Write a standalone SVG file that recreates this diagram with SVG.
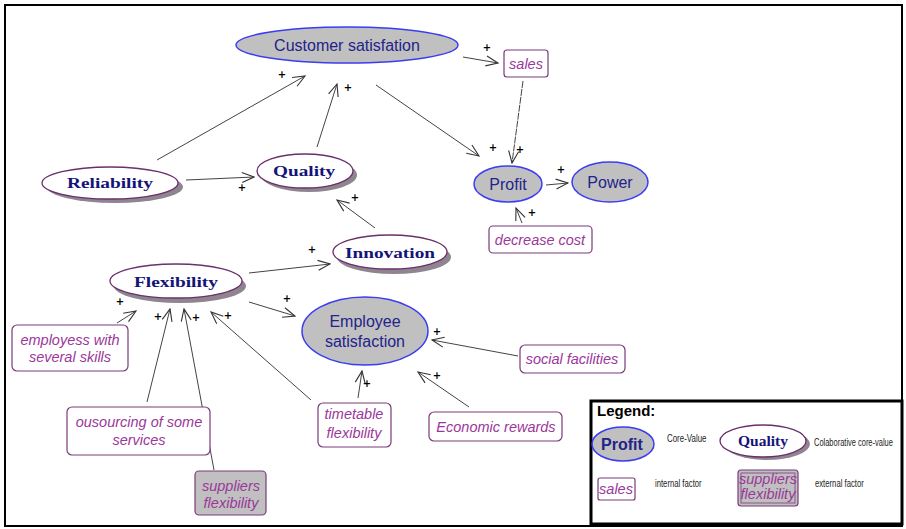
<svg xmlns="http://www.w3.org/2000/svg" width="906" height="529" viewBox="0 0 906 529">
<defs>
  <marker id="arr" markerWidth="14" markerHeight="12" refX="13" refY="6" orient="auto" markerUnits="userSpaceOnUse">
    <polyline points="1,1 13,6 1,11" fill="none" stroke="#333" stroke-width="1.1"/>
  </marker>
</defs>
<style>
  .core { fill: #c0c0c0; stroke: #3c3cf0; stroke-width: 1.5; }
  .coreT { font-family: "Liberation Sans", Arial, sans-serif; font-size: 16px; fill: #23238a; text-anchor: middle; }
  .collab { fill: #fff; stroke: #6b2f6b; stroke-width: 1.3; }
  .shadow { fill: #8f8590; }
  .collabT { font-family: "Liberation Serif", "Times New Roman", serif; font-weight: bold; font-size: 15px; fill: #141478; text-anchor: middle; }
  .fac { fill: #fff; stroke: #7a3a7a; stroke-width: 1.2; }
  .ext { fill: #c0c0c0; stroke: #7a3a7a; stroke-width: 1.2; }
  .facT { font-family: "Liberation Sans", Arial, sans-serif; font-style: italic; font-size: 14.5px; fill: #9b379b; text-anchor: middle; }
  .edge { fill: none; stroke: #444; stroke-width: 1; marker-end: url(#arr); }
  .plus { font-family: "DejaVu Sans", sans-serif; font-weight: bold; font-size: 10px; fill: #000; text-anchor: middle; }
  .legT { font-family: "Liberation Sans", Arial, sans-serif; font-size: 11px; fill: #222; }
</style>

<rect x="0" y="0" width="906" height="529" fill="#fff"/>
<!-- outer frame -->
<rect x="5" y="5" width="897" height="521" fill="none" stroke="#000" stroke-width="2"/>

<!-- connectors -->
<g id="connectors">
  <line class="edge" x1="157" y1="160" x2="305" y2="76"/>
  <line class="edge" x1="317" y1="147" x2="337" y2="84"/>
  <line class="edge" x1="463" y1="57" x2="498" y2="63"/>
  <line class="edge" x1="376" y1="85" x2="479" y2="156"/>
  <line class="edge" x1="523" y1="81" x2="512" y2="163" stroke-dasharray="7,1"/>
  <line class="edge" x1="546" y1="185" x2="568" y2="183"/>
  <line class="edge" x1="522" y1="223" x2="516" y2="208"/>
  <line class="edge" x1="186" y1="180" x2="254" y2="177"/>
  <line class="edge" x1="375" y1="228" x2="337" y2="200"/>
  <line class="edge" x1="249" y1="273" x2="330" y2="264"/>
  <line class="edge" x1="249" y1="302" x2="295" y2="316"/>
  <line class="edge" x1="117" y1="323" x2="136" y2="311"/>
  <line class="edge" x1="147" y1="402" x2="170" y2="309"/>
  <line class="edge" x1="214" y1="470" x2="184" y2="309"/>
  <line class="edge" x1="311" y1="400" x2="211" y2="312"/>
  <line class="edge" x1="358" y1="398" x2="362" y2="371"/>
  <line class="edge" x1="469" y1="407" x2="418" y2="372"/>
  <line class="edge" x1="518" y1="356" x2="432" y2="340"/>
  <text class="plus" x="282" y="78">+</text>
  <text class="plus" x="348" y="91">+</text>
  <text class="plus" x="487" y="51">+</text>
  <text class="plus" x="493" y="151">+</text>
  <text class="plus" x="520" y="153">+</text>
  <text class="plus" x="561" y="173">+</text>
  <text class="plus" x="532" y="216">+</text>
  <text class="plus" x="242" y="191">+</text>
  <text class="plus" x="355" y="201">+</text>
  <text class="plus" x="312" y="253">+</text>
  <text class="plus" x="287" y="302">+</text>
  <text class="plus" x="120" y="305">+</text>
  <text class="plus" x="158" y="320">+</text>
  <text class="plus" x="196" y="321">+</text>
  <text class="plus" x="228" y="319">+</text>
  <text class="plus" x="367" y="387">+</text>
  <text class="plus" x="437" y="379">+</text>
  <text class="plus" x="437" y="335">+</text>
</g>

<!-- core values -->
<g id="customer-satisfation">
  <ellipse class="core" cx="347" cy="45" rx="111" ry="18"/>
  <text class="coreT" x="347" y="51" font-size="17">Customer satisfation</text>
</g>
<g id="profit">
  <ellipse class="core" cx="508" cy="184" rx="34" ry="18"/>
  <text class="coreT" x="508" y="190">Profit</text>
</g>
<g id="power">
  <ellipse class="core" cx="610" cy="182" rx="38" ry="20"/>
  <text class="coreT" x="610" y="188">Power</text>
</g>
<g id="employee-satisfaction">
  <ellipse class="core" cx="365" cy="331" rx="63" ry="34"/>
  <text class="coreT" x="365" y="327">Employee</text>
  <text class="coreT" x="365" y="347">satisfaction</text>
</g>

<!-- collaborative core values -->
<g id="reliability">
  <ellipse class="shadow" cx="115" cy="187" rx="68" ry="16"/>
  <ellipse class="collab" cx="110" cy="183" rx="68" ry="16"/>
  <text class="collabT" x="110" y="188" textLength="86" lengthAdjust="spacingAndGlyphs">Reliability</text>
</g>
<g id="quality">
  <ellipse class="shadow" cx="309" cy="175" rx="48" ry="17"/>
  <ellipse class="collab" cx="305" cy="171" rx="48" ry="17"/>
  <text class="collabT" x="304" y="176" textLength="62" lengthAdjust="spacingAndGlyphs">Quality</text>
</g>
<g id="innovation">
  <ellipse class="shadow" cx="394" cy="257" rx="57" ry="17"/>
  <ellipse class="collab" cx="390" cy="252" rx="57" ry="17"/>
  <text class="collabT" x="390" y="258" textLength="90" lengthAdjust="spacingAndGlyphs">Innovation</text>
</g>
<g id="flexibility">
  <ellipse class="shadow" cx="180" cy="286" rx="66" ry="17"/>
  <ellipse class="collab" cx="176" cy="281" rx="66" ry="17"/>
  <text class="collabT" x="176" y="287" textLength="84" lengthAdjust="spacingAndGlyphs">Flexibility</text>
</g>

<!-- internal factors -->
<g id="sales">
  <rect class="fac" x="504" y="50" width="44" height="27" rx="3"/>
  <text class="facT" x="526" y="69">sales</text>
</g>
<g id="decrease-cost">
  <rect class="fac" x="489" y="226" width="103" height="27" rx="4"/>
  <text class="facT" x="540" y="245">decrease cost</text>
</g>
<g id="employess-with-several-skills">
  <rect class="fac" x="12" y="325" width="116" height="46" rx="5"/>
  <text class="facT" x="70" y="345">employess with</text>
  <text class="facT" x="70" y="362">several skills</text>
</g>
<g id="ousourcing">
  <rect class="fac" x="67" y="407" width="143" height="48" rx="5"/>
  <text class="facT" x="139" y="427">ousourcing of some</text>
  <text class="facT" x="139" y="445">services</text>
</g>
<g id="timetable-flexibility">
  <rect class="fac" x="318" y="403" width="73" height="44" rx="5"/>
  <text class="facT" x="354" y="419">timetable</text>
  <text class="facT" x="354" y="438">flexibility</text>
</g>
<g id="economic-rewards">
  <rect class="fac" x="429" y="412" width="133" height="29" rx="5"/>
  <text class="facT" x="496" y="432">Economic rewards</text>
</g>
<g id="social-facilities">
  <rect class="fac" x="520" y="345" width="105" height="28" rx="5"/>
  <text class="facT" x="572" y="364">social facilities</text>
</g>

<!-- external factor -->
<g id="suppliers-flexibility">
  <rect class="ext" x="195" y="471" width="71" height="44" rx="4"/>
  <text class="facT" x="231" y="491">suppliers</text>
  <text class="facT" x="231" y="508">flexibility</text>
</g>

<!-- legend -->
<g id="legend">
  <rect x="591" y="401" width="311" height="123" fill="#fff" stroke="#000" stroke-width="3"/>
  <text x="597" y="416" font-family="'Liberation Sans', Arial, sans-serif" font-weight="bold" font-size="15" fill="#000">Legend:</text>
  <ellipse class="core" cx="623" cy="444" rx="31" ry="17"/>
  <text class="coreT" x="622" y="450" font-weight="bold" font-size="14">Profit</text>
  <text class="legT" transform="translate(667,442) scale(0.72,1)">Core-Value</text>
  <ellipse class="shadow" cx="767" cy="444" rx="43" ry="16"/>
  <ellipse class="collab" cx="763" cy="441" rx="43" ry="16"/>
  <text class="collabT" x="763" y="446" font-size="13" textLength="50" lengthAdjust="spacingAndGlyphs">Quality</text>
  <text class="legT" transform="translate(814,446) scale(0.68,1)">Colaborative core-value</text>
  <rect class="fac" x="598" y="478" width="37" height="22" rx="2"/>
  <text class="facT" x="616" y="494" font-size="12">sales</text>
  <text class="legT" transform="translate(655,487) scale(0.7,1)">internal factor</text>
  <rect class="ext" x="738" y="470" width="60" height="36" rx="3"/>
  <rect x="741" y="473" width="54" height="30" fill="none" stroke="#7a3a7a" stroke-width="0.8"/>
  <text class="facT" x="768" y="484" font-size="10.5">suppliers</text>
  <text class="facT" x="768" y="499" font-size="10.5">flexibility</text>
  <text class="legT" transform="translate(815,487) scale(0.7,1)">external factor</text>
</g>
</svg>
